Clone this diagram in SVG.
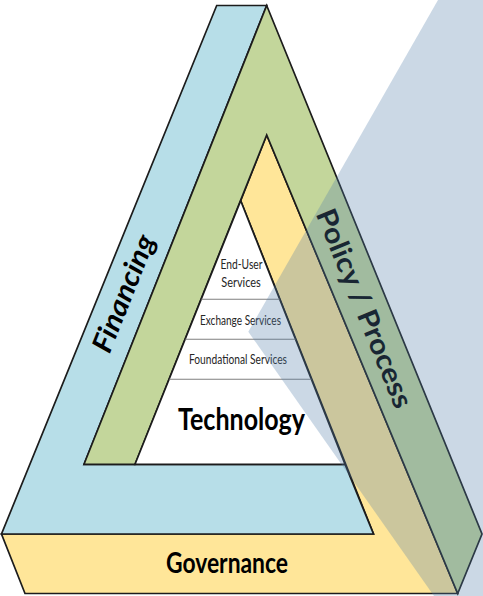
<svg xmlns="http://www.w3.org/2000/svg" width="483" height="596" viewBox="0 0 483 596">
  <style>
    .band { stroke: #1c1c1c; stroke-width: 1.7; stroke-linejoin: miter; }
    .blue { fill: #b7dee8; }
    .green { fill: #c3d69b; }
    .yellow { fill: #ffe699; }
    .white { fill: #ffffff; }
    .sep { stroke: #7f7f7f; stroke-width: 1.1; fill: none; }
    .svc { font-family: Lato, "Open Sans", "Liberation Sans", sans-serif; font-size: 14px; fill: #262626; text-anchor: middle; }
    .big { font-family: Lato, "Open Sans", "Liberation Sans", sans-serif; font-weight: bold; fill: #000000; text-anchor: middle; }
  </style>
  <rect x="0" y="0" width="483" height="596" fill="#ffffff"/>

  <g id="governance">
    <polygon class="band yellow" points="1.5,534 373.5,534 240.7,200.7 266.7,135 457.7,593.5 25,593.5"/>
    <text class="big" x="227" y="572.5" font-size="29" textLength="122" lengthAdjust="spacingAndGlyphs">Governance</text>
  </g>

  <g id="financing">
    <polygon class="band blue" points="216.7,5.5 266.7,5.5 84,464.3 345,464.3 373.5,534 1.5,534"/>
    <text class="big" x="0" y="0" font-size="28" font-style="italic" textLength="124" lengthAdjust="spacingAndGlyphs" transform="translate(132.5,297) rotate(-68.2)">Financing</text>
  </g>

  <g id="policy-process">
    <polygon class="band green" points="266.7,5.5 482,534 457.7,593.5 266.7,135 135,464.3 84,464.3"/>
    <text class="big" x="0" y="0" font-size="28" textLength="212" lengthAdjust="spacingAndGlyphs" transform="translate(355.5,312) rotate(67.8)">Policy / Process</text>
  </g>

  <g id="technology">
    <polygon class="band white" points="240.7,200.7 135,464.3 345,464.3"/>
    <line class="sep" x1="201.3" y1="299.3" x2="279.6" y2="299.3"/>
    <line class="sep" x1="185.3" y1="339.3" x2="295.5" y2="339.3"/>
    <line class="sep" x1="169.3" y1="379.3" x2="311.4" y2="379.3"/>
    <text class="svc" x="241.5" y="269" textLength="42" lengthAdjust="spacingAndGlyphs">End-User</text>
    <text class="svc" x="241" y="287.3" textLength="39.5" lengthAdjust="spacingAndGlyphs">Services</text>
    <text class="svc" x="240.5" y="325" textLength="81" lengthAdjust="spacingAndGlyphs">Exchange Services</text>
    <text class="svc" x="238" y="363.5" textLength="98" lengthAdjust="spacingAndGlyphs">Foundational Services</text>
    <text class="big" x="241.5" y="429.5" font-size="31" textLength="127" lengthAdjust="spacingAndGlyphs">Technology</text>
  </g>

  <g id="shadow">
    <polygon points="438,0 248.3,331.7 434,596 483,596 483,0" fill="#527daa" fill-opacity="0.3"/>
  </g>
</svg>
